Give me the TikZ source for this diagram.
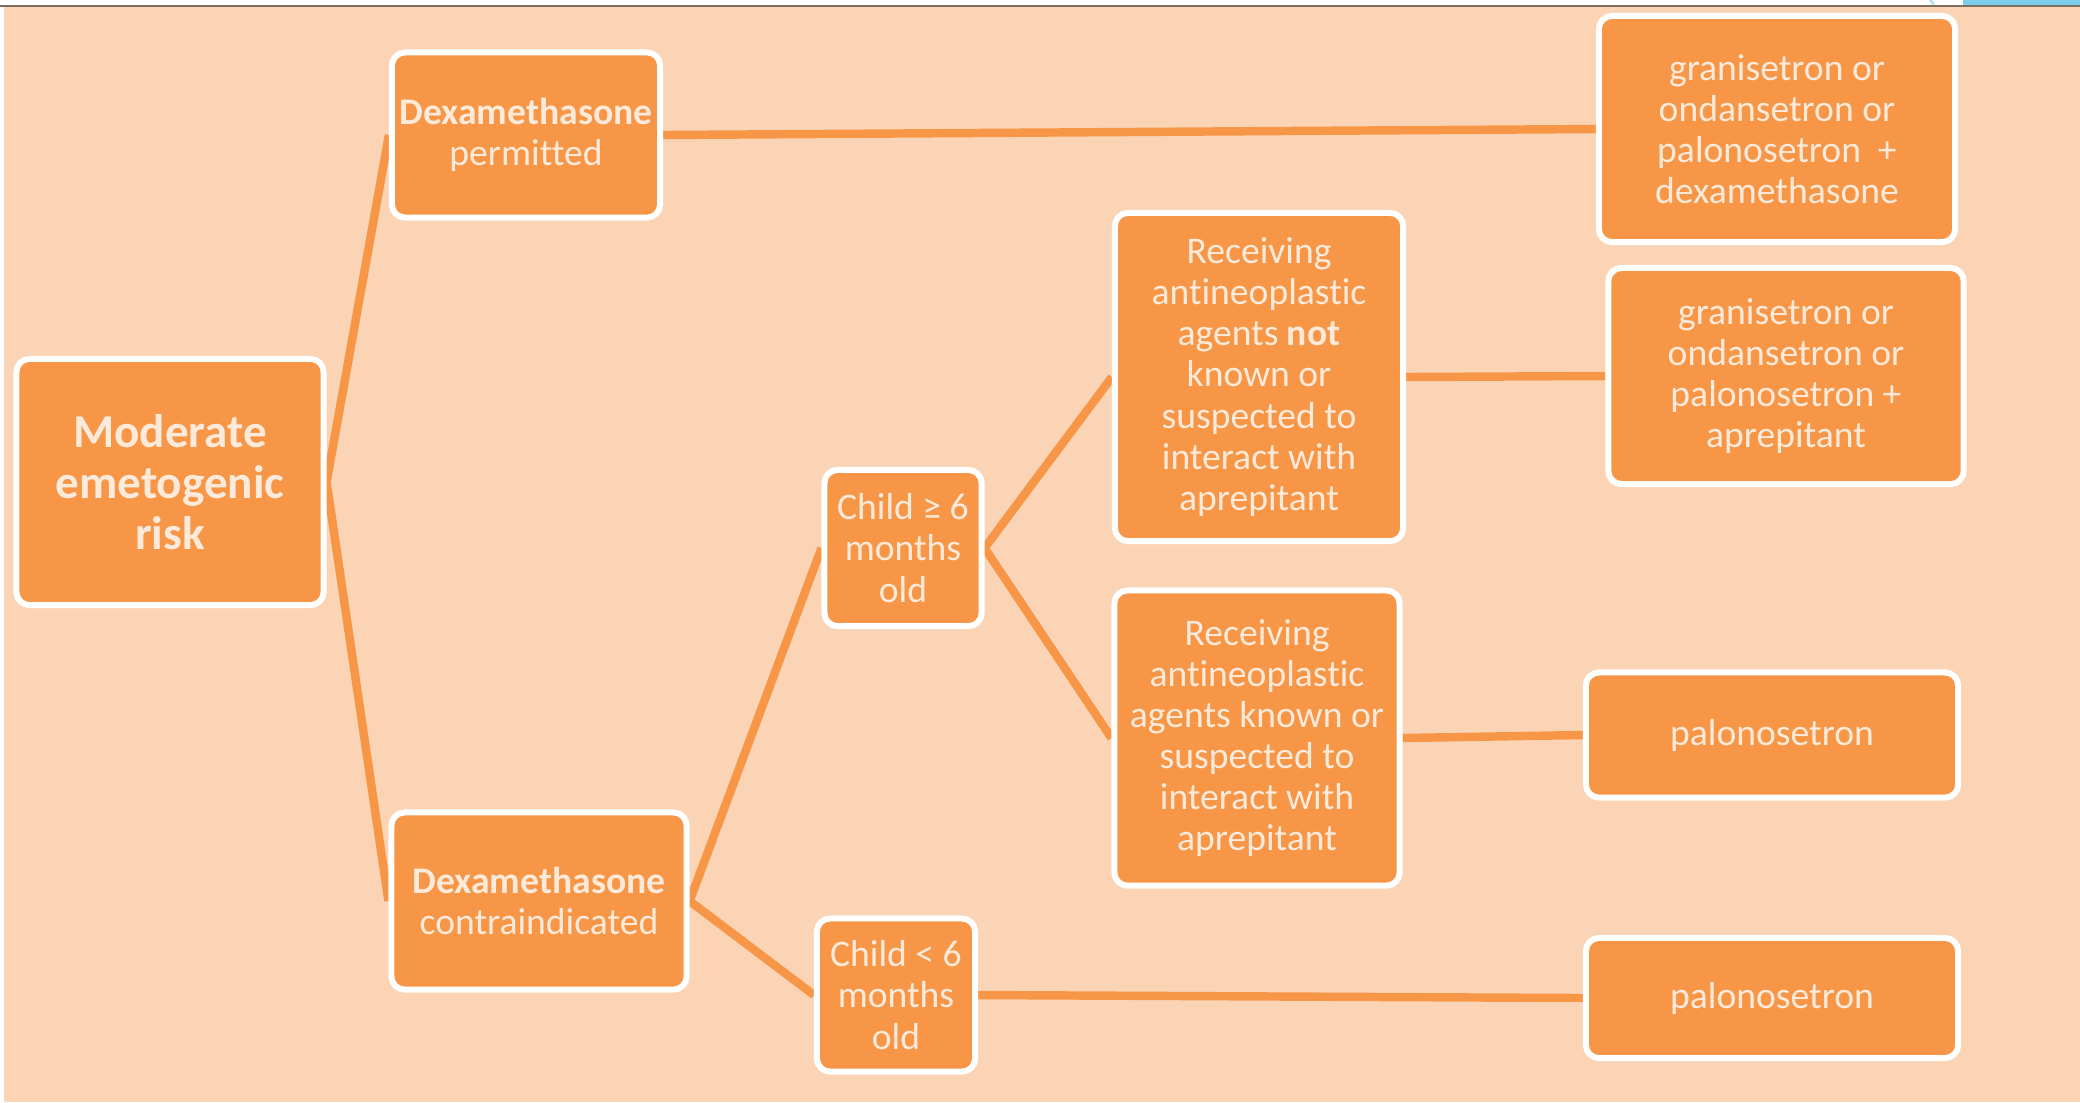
\documentclass[tikz,border=0pt]{standalone}
\usepackage{fontspec}
\setmainfont{Carlito}[Ligatures={NoCommon}]
\definecolor{bgpeach}{HTML}{FBD4B5}
\definecolor{orng}{HTML}{F79646}
\definecolor{cream}{HTML}{FDEADA}
\definecolor{topline}{HTML}{7D6E60}
\definecolor{topblue}{HTML}{7ACFEC}
\pgfdeclarelayer{bg}
\pgfdeclarelayer{edges}
\pgfsetlayers{bg,edges,main}
\tikzset{
  box/.style={rectangle, rounded corners=0.13cm, fill=orng, draw=white, line width=1.7pt,
    text=cream, align=center, inner sep=0pt,
    font=\fontsize{10.7}{11.7}\selectfont},
  bigbox/.style={box, font=\fontsize{13.4}{14.4}\selectfont\bfseries},
  edge/.style={draw=orng, line width=2.4pt},
}
\begin{document}
\begin{tikzpicture}[x=0.01cm, y=-0.01cm]
\useasboundingbox (0,0) rectangle (2080,1102);
\begin{pgfonlayer}{bg}
  \fill[bgpeach] (0,0) rectangle (2080,1102);
  \fill[white] (0,0) rectangle (2080,5);
  \fill[white] (0,0) rectangle (4,1102);
  \fill[topblue] (1963,0) rectangle (2080,4.5);
  \fill[topblue!60] (1929,0) -- (1932,0) -- (1935,4.5) -- (1932,4.5) -- cycle;
  \fill[topline] (0,4.5) rectangle (2080,7);
\end{pgfonlayer}

\node[bigbox, minimum width=3.07cm, minimum height=2.46cm] (m) at (170,482)
  {Moderate\\emetogenic\\risk};
\node[box, minimum width=2.68cm, minimum height=1.65cm] (dp) at (526,135)
  {\textbf{Dexamethasone}\\permitted};
\node[box, minimum width=2.95cm, minimum height=1.77cm] (dc) at (539,901)
  {\textbf{Dexamethasone}\\contraindicated};
\node[box, minimum width=1.57cm, minimum height=1.56cm] (c6) at (903,548)
  {Child ≥ 6\\months\\old};
\node[box, minimum width=1.58cm, minimum height=1.53cm] (c5) at (896,995)
  {Child < 6\\months\\old};
\node[box, minimum width=2.88cm, minimum height=3.28cm] (rn) at (1259,377)
  {Receiving\\antineoplastic\\agents \textbf{not}\\known or\\suspected to\\interact with\\aprepitant};
\node[box, minimum width=2.85cm, minimum height=2.95cm] (rk) at (1257,738)
  {Receiving\\antineoplastic\\agents known or\\suspected to\\interact with\\aprepitant};
\node[box, minimum width=3.56cm, minimum height=2.26cm] (t1) at (1777,129)
  {granisetron or\\ondansetron or\\palonosetron~~+\\dexamethasone};
\node[box, minimum width=3.55cm, minimum height=2.16cm] (t2) at (1786,376)
  {granisetron or\\ondansetron or\\palonosetron +\\aprepitant};
\node[box, minimum width=3.72cm, minimum height=1.25cm] (p1) at (1772,735)
  {palonosetron};
\node[box, minimum width=3.72cm, minimum height=1.20cm] (p2) at (1772,998)
  {palonosetron};

\begin{pgfonlayer}{edges}
  \draw[edge] (m.east) -- (dp.west);
  \draw[edge] (m.east) -- (dc.west);
  \draw[edge] (dp.east) -- (t1.west);
  \draw[edge] (dc.east) -- (c6.west);
  \draw[edge] (dc.east) -- (c5.west);
  \draw[edge] (c6.east) -- (rn.west);
  \draw[edge] (c6.east) -- (rk.west);
  \draw[edge] (rn.east) -- (t2.west);
  \draw[edge] (rk.east) -- (p1.west);
  \draw[edge] (c5.east) -- (p2.west);
\end{pgfonlayer}
\end{tikzpicture}
\end{document}
